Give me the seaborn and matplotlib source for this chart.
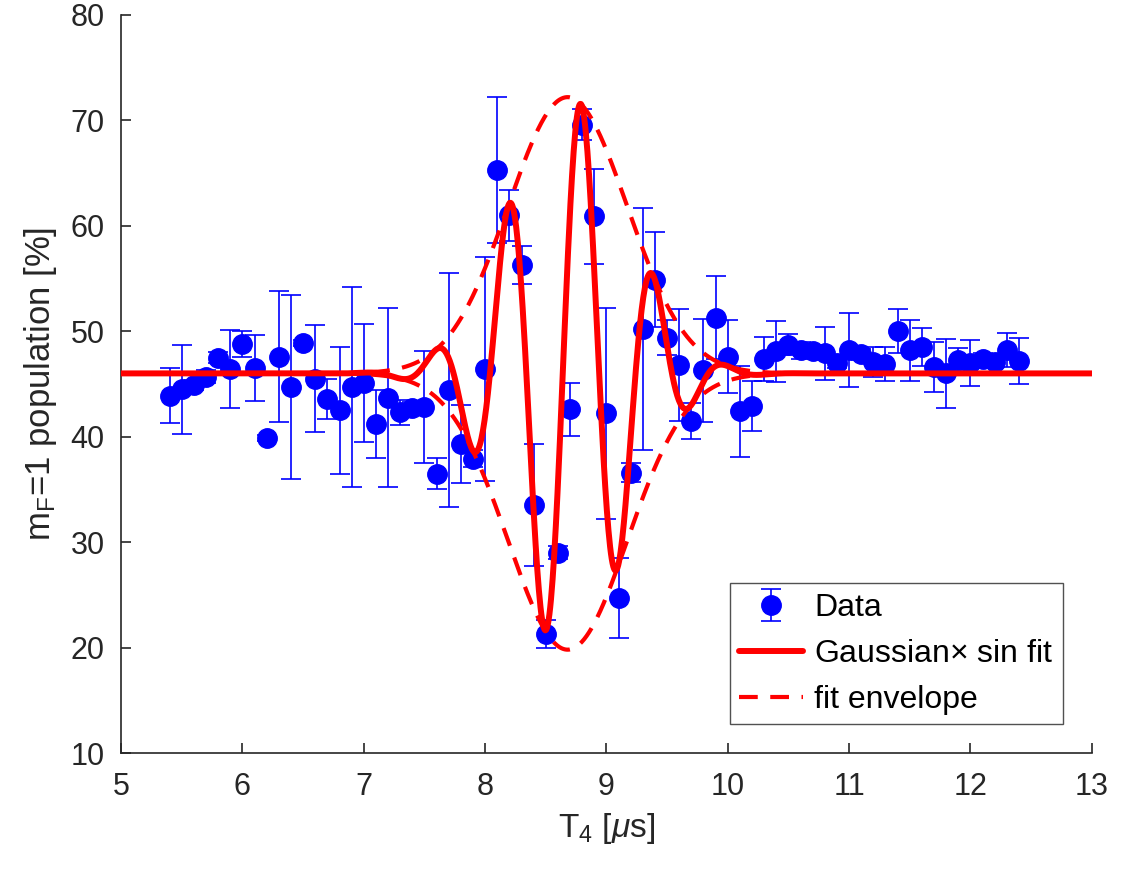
import numpy as np
import pandas as pd
import matplotlib
matplotlib.use('Agg')
import matplotlib.pyplot as plt
import seaborn as sns

# measured points
t4 = [5.4, 5.5, 5.6, 5.7, 5.8, 5.9, 6.0, 6.1, 6.2, 6.3,
      6.4, 6.5, 6.6, 6.7, 6.8, 6.9, 7.0, 7.1, 7.2, 7.3,
      7.4, 7.5, 7.6, 7.7, 7.8, 7.9, 8.0, 8.1, 8.2, 8.3,
      8.4, 8.5, 8.6, 8.7, 8.8, 8.9, 9.0, 9.1, 9.2, 9.3,
      9.4, 9.5, 9.6, 9.7, 9.8, 9.9, 10.0, 10.1, 10.2, 10.3,
      10.4, 10.5, 10.6, 10.7, 10.8, 10.9, 11.0, 11.1, 11.2, 11.3,
      11.4, 11.5, 11.6, 11.7, 11.8, 11.9, 12.0, 12.1, 12.2, 12.3,
      12.4]
pop = [43.9, 44.5, 44.9, 45.7, 47.5, 46.4, 48.8, 46.5, 39.9, 47.6,
       44.7, 48.9, 45.5, 43.6, 42.5, 44.7, 45.1, 41.2, 43.7, 42.3,
       42.7, 42.8, 36.5, 44.4, 39.3, 37.9, 46.4, 65.3, 61.0, 56.3,
       33.5, 21.3, 29.0, 42.6, 69.6, 60.9, 42.2, 24.7, 36.6, 50.2,
       54.9, 49.4, 46.8, 41.5, 46.3, 51.3, 47.6, 42.4, 42.9, 47.4,
       48.1, 48.7, 48.2, 48.1, 47.9, 47.0, 48.2, 47.8, 47.1, 46.9,
       50.0, 48.2, 48.5, 46.6, 46.0, 47.3, 47.0, 47.4, 47.1, 48.2,
       47.2]
err = [2.6, 4.2, 0.5, 0.6, 0.5, 3.7, 1.2, 3.1, 0.3, 6.2,
       8.7, 0.3, 5.1, 1.9, 6.0, 9.5, 5.6, 3.2, 8.5, 1.2,
       0.6, 5.3, 1.5, 11.1, 3.7, 0.8, 10.6, 6.9, 2.4, 1.8,
       5.8, 1.3, 0.6, 2.5, 1.5, 4.5, 10.0, 3.8, 0.9, 11.5,
       4.5, 1.7, 5.3, 1.7, 4.9, 3.9, 3.5, 4.3, 2.4, 2.1,
       2.9, 1.0, 0.8, 0.6, 2.5, 0.5, 3.5, 0.5, 1.4, 1.6,
       2.1, 2.9, 1.8, 2.4, 3.3, 1.1, 2.2, 0.5, 0.5, 1.6,
       2.2]

# fit parameters
offset = 46.0
amp = 26.2
center = 8.68
sigma = 0.49
period = 0.6
peak_pos = 8.79

df = pd.DataFrame({'t4': t4, 'pop': pop, 'err': err})

tt = np.linspace(5, 13, 1200)
env = amp * np.exp(-(tt - center) ** 2 / (2 * sigma ** 2))
fit = pd.DataFrame({'t4': tt,
                    'fit': offset + env * np.cos(2 * np.pi * (tt - peak_pos) / period),
                    'up': offset + env,
                    'lo': offset - env})

sns.set_style('ticks')
plt.rcParams['font.family'] = ['Liberation Sans', 'DejaVu Sans']
plt.rcParams['mathtext.fontset'] = 'custom'
plt.rcParams['mathtext.rm'] = 'Liberation Sans'
plt.rcParams['mathtext.it'] = 'Liberation Sans:italic'
plt.rcParams['xtick.direction'] = 'in'
plt.rcParams['ytick.direction'] = 'in'

fig = plt.figure(figsize=(11.22, 8.76), dpi=100)
ax = fig.add_axes([0.108, 0.1404, 0.865, 0.8426])

ax.errorbar(df['t4'], df['pop'], yerr=df['err'], fmt='o', color='#0000ff',
            ms=14, elinewidth=1.2, capsize=7, capthick=1.2, zorder=2,
            label='Data')
sns.lineplot(data=fit, x='t4', y='fit', ax=ax, color='#ff0000', lw=4.3,
             zorder=4, label='Gaussian$\\times$ sin fit')
sns.lineplot(data=fit, x='t4', y='up', ax=ax, color='#ff0000', lw=3,
             dashes=(4.5, 3), zorder=3, label='fit envelope')
sns.lineplot(data=fit, x='t4', y='lo', ax=ax, color='#ff0000', lw=3,
             dashes=(4.5, 3), zorder=3, legend=False)

ax.set_xlim(5, 13)
ax.set_ylim(10, 80)
ax.set_xticks(range(5, 14))
ax.set_yticks(range(10, 81, 10))
ax.tick_params(direction='in', labelsize=22, colors='#262626', length=7, width=1.2)
ax.tick_params(axis='x', pad=14)
ax.tick_params(axis='y', pad=12)
for s in ['top', 'right']:
    ax.spines[s].set_visible(False)
for s in ['left', 'bottom']:
    ax.spines[s].set_color('#262626')
    ax.spines[s].set_linewidth(1.2)

ax.set_xlabel('T$_4$ [$\\mu$s]', fontsize=24, color='#262626', labelpad=6)
ax.set_ylabel('m$_\\mathrm{F}$=1 population [%]', fontsize=25, color='#262626', labelpad=8)

handles, labels = ax.get_legend_handles_labels()
order = [labels.index('Data'), labels.index('Gaussian$\\times$ sin fit'),
         labels.index('fit envelope')]
leg = ax.legend([handles[i] for i in order], [labels[i] for i in order],
                loc='lower right', bbox_to_anchor=(0.977, 0.03),
                fontsize=23, frameon=True, fancybox=False, edgecolor='#262626',
                handlelength=2.0, handletextpad=0.35, borderpad=0.3,
                labelspacing=0.5, borderaxespad=0.2)
leg.get_frame().set_linewidth(1.0)
for t in leg.get_texts():
    t.set_color('black')

fig.savefig('out.png', dpi=100)
